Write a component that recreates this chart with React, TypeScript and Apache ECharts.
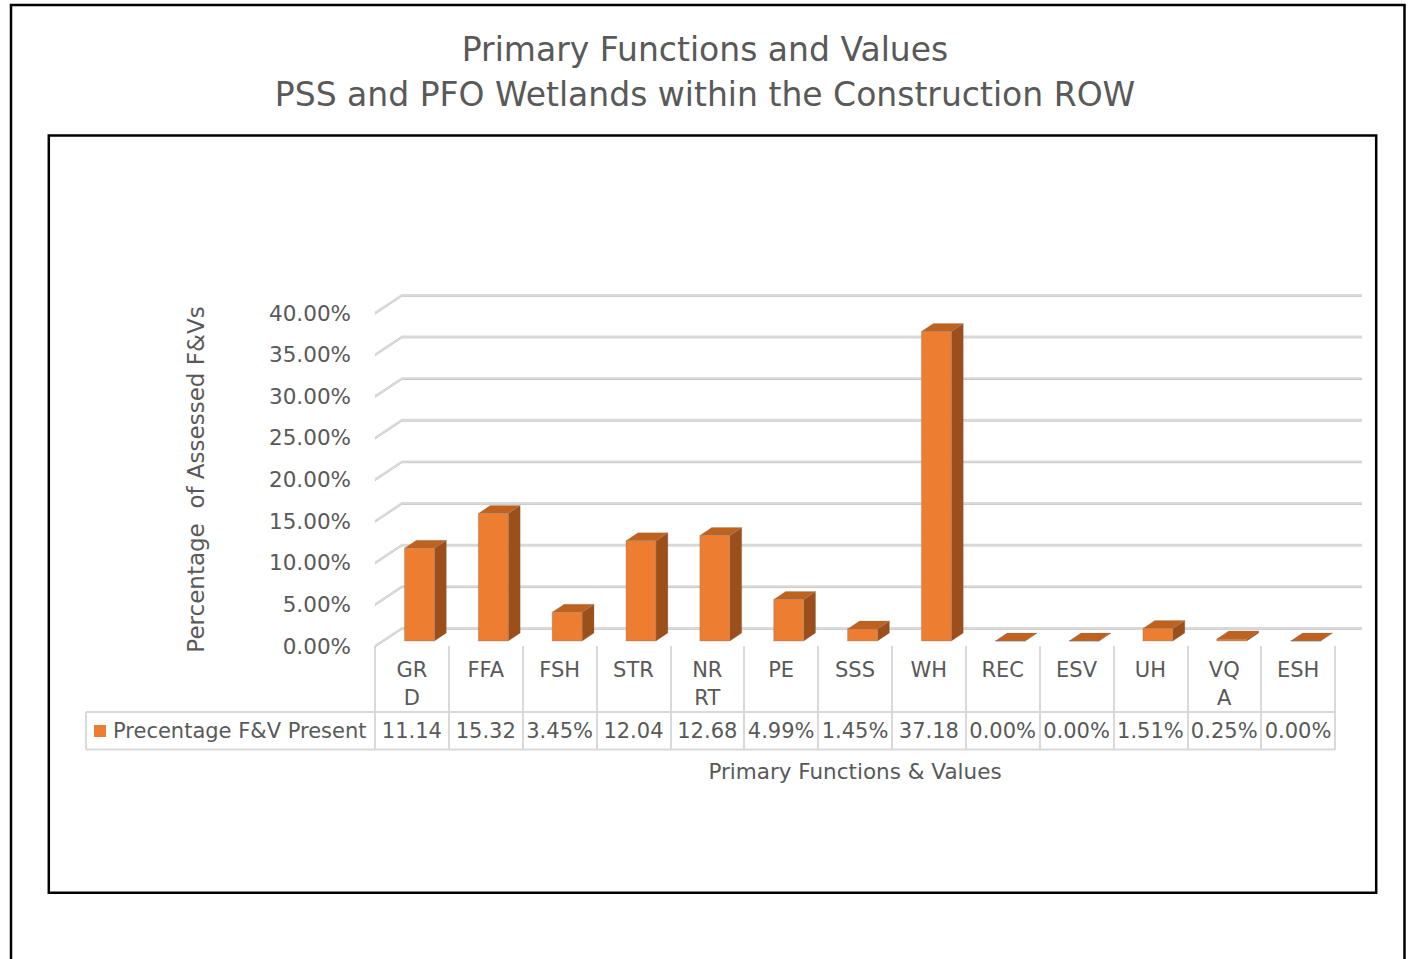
import React, { useEffect, useRef } from "react";
import * as echarts from "echarts";

const titleLines = ["Primary Functions and Values", "PSS and PFO Wetlands within the Construction ROW"];
const categories = ["GRD", "FFA", "FSH", "STR", "NRRT", "PE", "SSS", "WH", "REC", "ESV", "UH", "VQA", "ESH"];
const headerLabels = ["GR\nD", "FFA", "FSH", "STR", "NR\nRT", "PE", "SSS", "WH", "REC", "ESV", "UH", "VQ\nA", "ESH"];
const values = [11.14, 15.32, 3.45, 12.04, 12.68, 4.99, 1.45, 37.18, 0.0, 0.0, 1.51, 0.25, 0.0];
const yTicks = [0, 5, 10, 15, 20, 25, 30, 35, 40];
const seriesName = "Precentage F&V Present";
const yAxisName = "Percentage  of Assessed F&Vs";
const xAxisName = "Primary Functions & Values";

// layout constants
const GRID_LEFT = 375;
const GRID_TOP = 313;
const GRID_W = 960;
const GRID_H = 333;
const DEPTH_DX = 27;
const DEPTH_DY = -18;
const BAR_FRONT = 0.28;
const BAR_BACK = 0.72;
const BAR_RATIO = 0.406;
const FONT = "DejaVu Sans";
const TEXT = "#595959";
const TABLE_LINE = "#d9d9d9";

function cellText(v: number): string {
  const s = v.toFixed(2) + "%";
  return s.length > 5 ? s.slice(0, 5) : s;
}

export default function App() {
  const ref = useRef<HTMLDivElement>(null);
  useEffect(() => {
    if (!ref.current) return;
    const chart = echarts.init(ref.current, null, { renderer: "svg" });
    const tableTop = 712;
    const tableBottom = 749.5;
    const tableLeft = 86;
    const tableRight = GRID_LEFT + GRID_W;
    const option: any = {
      animation: false,
      backgroundColor: "#ffffff",
      textStyle: { fontFamily: FONT },
      title: {
        text: titleLines.join("\n"),
        left: "center",
        top: 27,
        padding: 0,
        textStyle: { fontFamily: FONT, fontSize: 33, lineHeight: 45, fontWeight: "normal", color: TEXT },
      },
      legend: {
        data: [seriesName],
        left: 94,
        top: 719,
        padding: 0,
        icon: "rect",
        itemWidth: 12,
        itemHeight: 12,
        textStyle: { fontFamily: FONT, fontSize: 21, lineHeight: 24, color: TEXT, padding: [0, 0, 0, 2] },
      },
      grid: { left: GRID_LEFT, top: GRID_TOP, width: GRID_W, height: GRID_H, containLabel: false },
      xAxis: [
        {
          type: "category",
          data: categories,
          position: "bottom",
          axisLine: { show: false },
          axisTick: { show: true, length: 104, alignWithLabel: false, interval: 0, lineStyle: { color: TABLE_LINE, width: 2 } },
          axisLabel: {
            interval: 0,
            margin: 10,
            fontFamily: FONT,
            fontSize: 21,
            lineHeight: 28,
            color: TEXT,
            formatter: (_v: string, i: number) => headerLabels[i],
          },
          splitLine: { show: false },
        },
        {
          type: "category",
          data: categories,
          position: "bottom",
          offset: 0,
          axisLine: { show: false },
          axisTick: { show: false },
          axisLabel: {
            interval: 0,
            margin: 74.5,
            fontFamily: FONT,
            fontSize: 21,
            lineHeight: 21,
            color: TEXT,
            formatter: (_v: string, i: number) => cellText(values[i]),
          },
          name: xAxisName,
          nameLocation: "middle",
          nameGap: 114,
          nameTextStyle: { fontFamily: FONT, fontSize: 21.5, color: TEXT },
          splitLine: { show: false },
        },
      ],
      yAxis: {
        type: "value",
        min: 0,
        max: 40,
        interval: 5,
        axisLine: { show: false },
        axisTick: { show: false },
        splitLine: { show: false },
        axisLabel: {
          margin: 24,
          fontFamily: FONT,
          fontSize: 21.5,
          color: TEXT,
          padding: [3, 0, 0, 0],
          formatter: (v: number) => v.toFixed(2) + "%",
        },
        name: yAxisName,
        nameLocation: "middle",
        nameRotate: 90,
        nameGap: 168,
        nameTextStyle: { fontFamily: FONT, fontSize: 23, color: TEXT },
      },
      series: [
        {
          type: "custom",
          name: "gridlines",
          clip: false,
          silent: true,
          z: 1,
          data: yTicks.map((v) => [0, v]),
          renderItem: (params: any, api: any) => {
            const cs = params.coordSys;
            const y = api.coord([0, api.value(1)])[1];
            const left = cs.x;
            const right = cs.x + cs.width;
            return {
              type: "group",
              children: [
                {
                  type: "polyline",
                  shape: { points: [[left, y + 1.2], [left + DEPTH_DX, y + DEPTH_DY + 1.2], [right + DEPTH_DX, y + DEPTH_DY + 1.2]] },
                  style: { stroke: "#bdbdbd", lineWidth: 1, fill: null },
                },
                {
                  type: "polyline",
                  shape: { points: [[left, y], [left + DEPTH_DX, y + DEPTH_DY], [right + DEPTH_DX, y + DEPTH_DY]] },
                  style: { stroke: "#d9d9d9", lineWidth: 2.2, fill: null },
                },
              ],
            };
          },
        },
        {
          type: "custom",
          name: seriesName,
          clip: false,
          z: 3,
          itemStyle: { color: "#ED7D31" },
          data: values.map((v, i) => [i, v]),
          renderItem: (params: any, api: any) => {
            const i = api.value(0);
            const v = api.value(1);
            const base = api.coord([i, 0]);
            const top = api.coord([i, v]);
            const bw = api.size([1, 0])[0] * BAR_RATIO;
            const fx = BAR_FRONT * DEPTH_DX;
            const fy = BAR_FRONT * DEPTH_DY;
            const dx = (BAR_BACK - BAR_FRONT) * DEPTH_DX;
            const dy = (BAR_BACK - BAR_FRONT) * DEPTH_DY;
            const x0 = base[0] - bw / 2 + fx;
            const x1 = x0 + bw;
            const yb = base[1] + fy;
            const yt = top[1] + fy;
            return {
              type: "group",
              children: [
                {
                  type: "polygon",
                  shape: { points: [[x1, yt], [x1 + dx, yt + dy], [x1 + dx, yb + dy], [x1, yb]] },
                  style: { fill: "#9C4F1B", stroke: "rgba(120,120,120,0.35)", lineWidth: 0.6 },
                },
                {
                  type: "polygon",
                  shape: { points: [[x0, yt], [x1, yt], [x1 + dx, yt + dy], [x0 + dx, yt + dy]] },
                  style: { fill: "#C0621F", stroke: "rgba(120,120,120,0.35)", lineWidth: 0.6 },
                },
                {
                  type: "rect",
                  shape: { x: x0, y: yt, width: bw, height: Math.max(yb - yt, 0) },
                  style: { fill: "#ED7D31", stroke: "rgba(120,120,120,0.45)", lineWidth: 0.8 },
                },
              ],
            };
          },
        },
      ],
      graphic: [
        {
          type: "rect",
          silent: true,
          shape: { x: 11, y: 5, width: 1393.5, height: 1000 },
          style: { fill: null, stroke: "#000", lineWidth: 2.5 },
        },
        {
          type: "rect",
          silent: true,
          shape: { x: 48.8, y: 135.5, width: 1327.4, height: 757.3 },
          style: { fill: null, stroke: "#000", lineWidth: 2.5 },
        },
        {
          type: "line",
          silent: true,
          shape: { x1: tableLeft, y1: tableTop, x2: tableRight, y2: tableTop },
          style: { stroke: TABLE_LINE, lineWidth: 2 },
        },
        {
          type: "line",
          silent: true,
          shape: { x1: tableLeft, y1: tableBottom, x2: tableRight, y2: tableBottom },
          style: { stroke: TABLE_LINE, lineWidth: 2 },
        },
        {
          type: "line",
          silent: true,
          shape: { x1: tableLeft, y1: tableTop, x2: tableLeft, y2: tableBottom },
          style: { stroke: TABLE_LINE, lineWidth: 2 },
        },
      ],
    };
    chart.setOption(option);
    return () => chart.dispose();
  }, []);
  return (
    <div
      ref={ref}
      style={{ position: "fixed", left: 0, top: 0, width: 1410, height: 959, background: "#fff" }}
    />
  );
}
